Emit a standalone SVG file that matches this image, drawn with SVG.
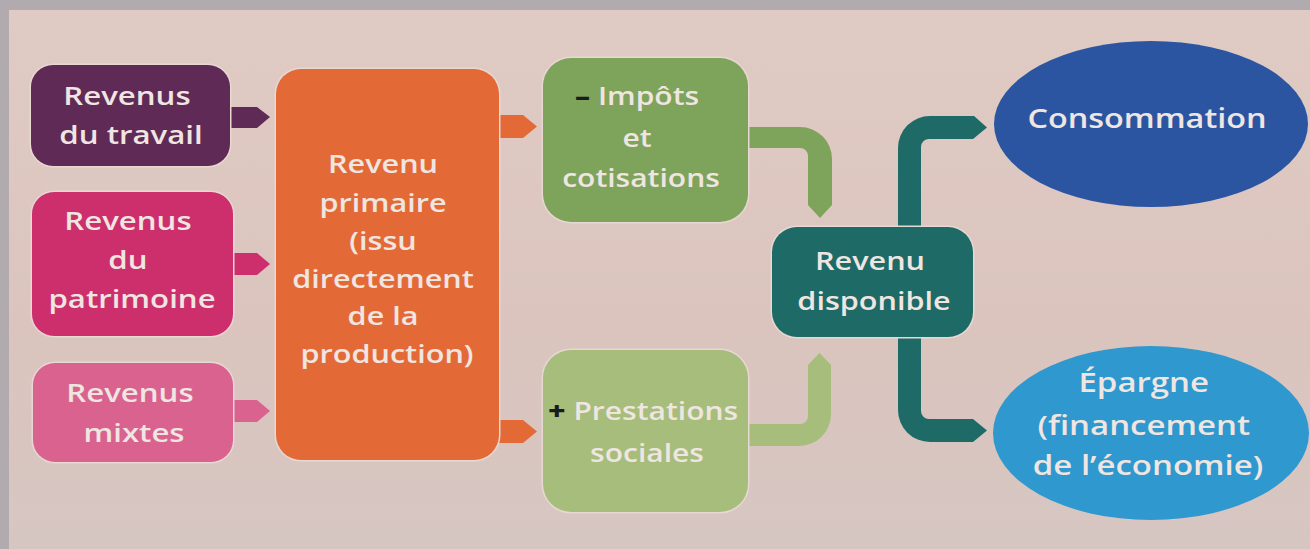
<svg xmlns="http://www.w3.org/2000/svg" width="1310" height="549" viewBox="0 0 1310 549">
  <defs>
    <linearGradient id="page" x1="0" y1="0" x2="0" y2="1">
      <stop offset="0" stop-color="#e0cbc4"/>
      <stop offset="0.6" stop-color="#dbc4be"/>
      <stop offset="1" stop-color="#d6c6c2"/>
    </linearGradient>
    <style>
      .halo { stroke: #e7d8d3; stroke-width: 3; paint-order: stroke; stroke-linejoin: round; }
      .t { font-family: "Open Sans", "Liberation Sans", sans-serif; font-weight: 600; text-anchor: middle; fill: #efe5e1; }
      .purple { fill: #5f2a56; }
      .magenta { fill: #cd2e6c; }
      .pink { fill: #d9628f; }
      .orange { fill: #e36a37; }
      .green { fill: #7ea35b; }
      .lgreen { fill: #a7bd7b; }
      .teal { fill: #1d6a66; }
      .blue { fill: #2c55a1; }
      .sky { fill: #2e98cf; }
      .sign { fill: #1b1b1b; font-weight: 800; }
    </style>
  </defs>

  <!-- paper and scan margin -->
  <rect width="1310" height="549" fill="#b1aaae"/>
  <rect x="9" y="10" width="1301" height="539" fill="url(#page)"/>

  <!-- connectors -->
  <g id="connectors">
    <!-- bubble tails into the primary income box -->
    <path class="purple" d="M225 107 L257 107 L270 117 L257 128 L225 128 Z"/>
    <path class="magenta" d="M228 253 L257 253 L270 264 L257 275 L228 275 Z"/>
    <path class="pink" d="M228 400 L257 400 L270 411 L257 422 L228 422 Z"/>
    <!-- primary income to taxes and benefits -->
    <path class="orange" d="M494 115 L523 115 L537 126.5 L523 138 L494 138 Z"/>
    <path class="orange" d="M494 420 L523 420 L537 431.5 L523 443 L494 443 Z"/>
    <!-- taxes elbow down to disposable income -->
    <path class="green" d="M740 127 L800 127 A32 32 0 0 1 832 159 L832 205 L820 218 L808 205 L808 156 A8 8 0 0 0 800 148 L740 148 Z"/>
    <!-- benefits elbow up to disposable income -->
    <path class="lgreen" d="M740 424 L800 424 A8 8 0 0 0 808 416 L808 365 L819.5 353 L831 365 L831 414 A32 32 0 0 1 799 446 L740 446 Z"/>
    <!-- disposable income split into consumption and saving -->
    <path class="teal" d="M921 232 L921 147 A8 8 0 0 1 929 139 L973 139 L987 127.5 L974 116 L930 116 A32 32 0 0 0 898 148 L898 232 Z"/>
    <path class="teal" d="M898 332 L898 410 A32 32 0 0 0 930 442 L973 442 L987 430.5 L973 419 L929 419 A8 8 0 0 1 921 411 L921 332 Z"/>
  </g>

  <g id="revenus-travail">
    <rect class="purple halo" x="31" y="65" width="199" height="101" rx="22"/>
    <text class="t" font-size="26" transform="matrix(1.2 0 0 1 131 0)" fill="#ddd2da">
      <tspan x="0" y="105">Revenus</tspan>
      <tspan x="0" y="144">du travail</tspan>
    </text>
  </g>

  <g id="revenus-patrimoine">
    <rect class="magenta halo" x="32" y="192" width="201" height="144" rx="22"/>
    <text class="t" font-size="26" transform="matrix(1.2 0 0 1 132 0)">
      <tspan x="0" y="230">Revenus</tspan>
      <tspan x="0" y="269">du</tspan>
      <tspan x="0" y="308">patrimoine</tspan>
    </text>
  </g>

  <g id="revenus-mixtes">
    <rect class="pink halo" x="33" y="363" width="200" height="99" rx="22"/>
    <text class="t" font-size="26" transform="matrix(1.2 0 0 1 134 0)">
      <tspan x="0" y="402">Revenus</tspan>
      <tspan x="0" y="442">mixtes</tspan>
    </text>
  </g>

  <g id="revenu-primaire">
    <rect class="orange halo" x="276" y="69" width="223" height="391" rx="25"/>
    <text class="t" font-size="25.5" transform="matrix(1.2 0 0 1 387 0)" fill="#f2d6c6">
      <tspan x="0" y="173">Revenu</tspan>
      <tspan x="0" y="212">primaire</tspan>
      <tspan x="0" y="250">(issu</tspan>
      <tspan x="0" y="288">directement</tspan>
      <tspan x="0" y="325">de la</tspan>
      <tspan x="0" y="363">production)</tspan>
    </text>
  </g>

  <g id="impots-cotisations">
    <rect class="green halo" x="543" y="58" width="205" height="164" rx="28"/>
    <text class="t" font-size="25" transform="matrix(1.2 0 0 1 641 0)" fill="#e6ead8">
      <tspan x="0" y="105"><tspan class="sign">–</tspan> Impôts</tspan>
      <tspan x="0" y="147">et</tspan>
      <tspan x="0" y="187">cotisations</tspan>
    </text>
  </g>

  <g id="prestations-sociales">
    <rect class="lgreen halo" x="543" y="350" width="205" height="162" rx="28"/>
    <text class="t" font-size="25" transform="matrix(1.2 0 0 1 647 0)" fill="#e4e6d2">
      <tspan x="0" y="420"><tspan class="sign">+</tspan> Prestations</tspan>
      <tspan x="0" y="462">sociales</tspan>
    </text>
  </g>

  <g id="revenu-disponible">
    <rect class="teal halo" x="772" y="227" width="201" height="110" rx="25"/>
    <text class="t" font-size="25.5" transform="matrix(1.2 0 0 1 874 0)" fill="#dde6e1">
      <tspan x="0" y="270">Revenu</tspan>
      <tspan x="0" y="310">disponible</tspan>
    </text>
  </g>

  <g id="consommation">
    <ellipse class="blue" cx="1151" cy="124" rx="157" ry="83"/>
    <text class="t" font-size="27" transform="matrix(1.2 0 0 1 1147 0)" fill="#e4e4ee">
      <tspan x="0" y="128">Consommation</tspan>
    </text>
  </g>

  <g id="epargne">
    <ellipse class="sky" cx="1151" cy="433" rx="158" ry="87"/>
    <text class="t" font-size="27.5" transform="matrix(1.2 0 0 1 1148 0)" fill="#e3ecf1">
      <tspan x="0" y="392">Épargne</tspan>
      <tspan x="0" y="435">(financement</tspan>
      <tspan x="0" y="475">de l’économie)</tspan>
    </text>
  </g>
</svg>
